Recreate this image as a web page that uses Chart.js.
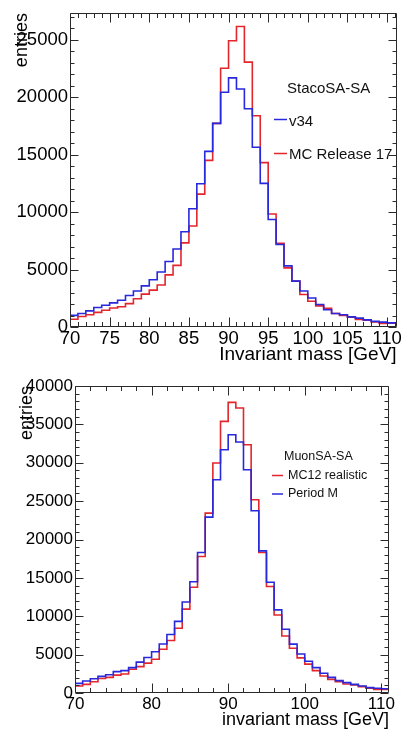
<!DOCTYPE html>
<html>
<head>
<meta charset="utf-8">
<script src="https://cdn.jsdelivr.net/npm/chart.js@4.4.1/dist/chart.umd.min.js"></script>
<style>
  html, body { margin: 0; padding: 0; background: #fff; }
  .panel { position: absolute; left: 0; width: 403px; }
  #panelSuperior { top: 0; height: 366px; }
  #panelInferior { top: 366px; height: 365px; }
</style>
</head>
<body>
<div class="panel" id="panelSuperior"><canvas id="masaStaco" width="403" height="366"></canvas></div>
<div class="panel" id="panelInferior"><canvas id="masaMuon" width="403" height="365"></canvas></div>
<script>
// bordes de los bins (1 GeV) comunes a los dos histogramas
const bordesBins = [70, 71, 72, 73, 74, 75, 76, 77, 78, 79, 80, 81, 82, 83, 84, 85, 86, 87, 88, 89, 90,
    91, 92, 93, 94, 95, 96, 97, 98, 99, 100, 101, 102, 103, 104, 105, 106, 107, 108, 109, 110, 111];

// panel de arriba: StacoSA-SA
const v34 = [1010, 1170, 1400, 1690, 1890, 2100, 2320, 2740, 3130, 3580, 4110, 4780, 5700, 6790, 8290,
    10280, 12460, 15270, 17710, 20420, 21670, 20700, 18980, 15630, 12490, 9350, 7170, 5320, 3990, 3130,
    2520, 1960, 1500, 1170, 1060, 880, 770, 620, 490, 420, 360];
const mcRelease17 = [680, 910, 1070, 1270, 1460, 1650, 1760, 2030, 2460, 2860, 3210, 3650, 4530, 5360, 7320,
    8790, 11560, 14490, 17710, 22500, 24890, 26130, 23040, 18370, 14300, 9830, 7290, 5140, 3990, 2830,
    2240, 1840, 1630, 1180, 1000, 850, 660, 590, 430, 300, 330];

// panel de abajo: MuonSA-SA
const mc12Realistic = [910, 1130, 1460, 1880, 2040, 2330, 2470, 3100, 3430, 3890, 4400, 5700, 6850, 8440, 10930,
    13780, 17780, 23430, 29960, 35390, 37870, 37130, 32350, 25170, 18300, 13870, 10170, 7430, 5830, 4580,
    3760, 2910, 2220, 1780, 1480, 1170, 1040, 830, 610, 450, 470];
const periodoM = [1250, 1560, 1850, 2170, 2380, 2780, 2920, 3310, 4020, 4630, 5380, 6380, 7620, 9330, 11850,
    14500, 18300, 22910, 27780, 31700, 33650, 32700, 29090, 23740, 18520, 14430, 10830, 8300, 6370, 5090,
    4130, 3300, 2570, 2040, 1610, 1350, 1130, 910, 700, 620, 560];

// etiquetas de los ejes
const ticksXSuperior = [70, 75, 80, 85, 90, 95, 100, 105, 110];
const ticksYSuperior = [0, 5000, 10000, 15000, 20000, 25000];
const ticksXInferior = [70, 80, 90, 100, 110];
const ticksYInferior = [0, 5000, 10000, 15000, 20000, 25000, 30000, 35000, 40000];

const ROJO = '#e2262c';
const AZUL = '#2828dc';
const FAMILIA = "'Liberation Sans', Arial, Helvetica, sans-serif";

Chart.defaults.font.family = FAMILIA;
Chart.defaults.color = '#000';

// pasa los contenidos por bin a puntos en los bordes (para stepped)
function puntosHistograma(valores) {
    const puntos = valores.map((v, i) => ({ x: bordesBins[i], y: v }));
    puntos.push({ x: bordesBins[valores.length], y: valores[valores.length - 1] });
    return puntos;
}

// marco estilo ROOT con ticks hacia dentro en los cuatro lados
function crearMarco(cfg) {
    return {
        id: 'marcoRoot',
        afterDatasetsDraw(chart) {
            const { ctx, chartArea: a, scales: { x, y } } = chart;
            const izq = Math.round(a.left) + 0.5, der = Math.round(a.right) - 0.5;
            const arr = Math.round(a.top) + 0.5, aba = Math.round(a.bottom) - 0.5;
            ctx.save();
            ctx.strokeStyle = '#2a2a2a';
            ctx.lineWidth = 1;
            ctx.beginPath();
            ctx.rect(izq, arr, der - izq, aba - arr);
            for (let v = x.min; v <= x.max + 1e-6; v += cfg.pasoX) {
                const px = Math.round(x.getPixelForValue(v)) + 0.5;
                const largo = cfg.mayoresX.includes(Math.round(v)) ? 9 : 4.5;
                ctx.moveTo(px, aba); ctx.lineTo(px, aba - largo);
                ctx.moveTo(px, arr); ctx.lineTo(px, arr + largo);
            }
            for (let v = 0; v <= y.max + 1e-6; v += cfg.pasoY) {
                const py = Math.round(y.getPixelForValue(v)) + 0.5;
                const largo = cfg.mayoresY.includes(v) ? 8 : 4;
                ctx.moveTo(izq, py); ctx.lineTo(izq + largo, py);
                ctx.moveTo(der, py); ctx.lineTo(der - largo, py);
            }
            ctx.stroke();
            ctx.restore();
        }
    };
}

// leyenda dentro del area, como la de ROOT
function crearLeyenda(cfg) {
    return {
        id: 'leyendaRoot',
        afterDraw(chart) {
            const ctx = chart.ctx;
            ctx.save();
            ctx.font = cfg.tamano + 'px ' + FAMILIA;
            ctx.fillStyle = '#111';
            ctx.textBaseline = 'middle';
            ctx.textAlign = 'left';
            ctx.fillText(cfg.titulo, cfg.xTitulo, cfg.yTitulo);
            cfg.entradas.forEach(e => {
                const ds = chart.data.datasets[e.indice];
                ctx.strokeStyle = ds.borderColor;
                ctx.lineWidth = 1.5;
                ctx.beginPath();
                ctx.moveTo(cfg.xLinea[0], e.yLinea);
                ctx.lineTo(cfg.xLinea[1], e.yLinea);
                ctx.stroke();
                ctx.fillText(ds.label, cfg.xTexto, e.yTexto);
            });
            ctx.restore();
        }
    };
}

function serie(label, valores, color, orden) {
    return {
        label: label,
        data: puntosHistograma(valores),
        borderColor: color,
        borderWidth: 1.6,
        pointRadius: 0,
        fill: false,
        stepped: true,
        order: orden
    };
}

function opcionesEjes(p) {
    return {
        x: {
            type: 'linear',
            min: 70,
            max: p.maxX,
            afterBuildTicks: s => { s.ticks = p.ticksX.map(v => ({ value: v })); },
            afterFit: s => { s.height = p.altoX; },
            grid: { display: false, drawTicks: false, tickLength: 0 },
            border: { display: false },
            ticks: { autoSkip: false, maxRotation: 0, padding: 1, color: '#000',
                font: { size: p.fuenteTicks }, callback: v => String(v) },
            title: { display: true, text: p.tituloX, align: 'end', color: '#000',
                padding: { top: 0, bottom: 0 }, font: { size: p.fuenteTituloX } }
        },
        y: {
            min: 0,
            max: p.maxY,
            afterBuildTicks: s => { s.ticks = p.ticksY.map(v => ({ value: v })); },
            afterFit: s => { s.width = p.anchoY; },
            grid: { display: false, drawTicks: false, tickLength: 0 },
            border: { display: false },
            ticks: { padding: 2, color: '#000', font: { size: p.fuenteTicks }, callback: v => String(v) },
            title: { display: true, text: 'entries', align: 'end', color: '#000',
                padding: { top: p.padTituloY, bottom: 0 }, font: { size: p.fuenteTituloY } }
        }
    };
}

// ---- panel superior ----
new Chart(document.getElementById('masaStaco').getContext('2d'), {
    type: 'line',
    data: {
        datasets: [
            serie('v34', v34, AZUL, 0),
            serie('MC Release 17', mcRelease17, ROJO, 1)
        ]
    },
    options: {
        responsive: false,
        animation: false,
        layout: { padding: { top: 12, right: 6, bottom: 0, left: 0 } },
        scales: opcionesEjes({
            maxX: 111.2, maxY: 27300, ticksX: ticksXSuperior, ticksY: ticksYSuperior,
            altoX: 39, anchoY: 70, fuenteTicks: 18.5, fuenteTituloX: 19, fuenteTituloY: 18,
            padTituloY: 11, tituloX: 'Invariant mass [GeV]'
        }),
        plugins: { legend: { display: false }, tooltip: { enabled: false } }
    },
    plugins: [
        crearMarco({ pasoX: 1, pasoY: 1000, mayoresX: ticksXSuperior, mayoresY: ticksYSuperior }),
        crearLeyenda({
            titulo: 'StacoSA-SA', tamano: 15, xTitulo: 287, yTitulo: 88.5,
            xLinea: [274, 287], xTexto: 289,
            entradas: [
                { indice: 0, yLinea: 119.5, yTexto: 122 },
                { indice: 1, yLinea: 153.5, yTexto: 155 }
            ]
        })
    ]
});

// ---- panel inferior ----
new Chart(document.getElementById('masaMuon').getContext('2d'), {
    type: 'line',
    data: {
        datasets: [
            serie('MC12 realistic', mc12Realistic, ROJO, 1),
            serie('Period M', periodoM, AZUL, 0)
        ]
    },
    options: {
        responsive: false,
        animation: false,
        layout: { padding: { top: 20, right: 14, bottom: 0, left: 0 } },
        scales: opcionesEjes({
            maxX: 111, maxY: 40000, ticksX: ticksXInferior, ticksY: ticksYInferior,
            altoX: 38, anchoY: 75, fuenteTicks: 17, fuenteTituloX: 18, fuenteTituloY: 18,
            padTituloY: 16.7, tituloX: 'invariant mass [GeV]'
        }),
        plugins: { legend: { display: false }, tooltip: { enabled: false } }
    },
    plugins: [
        crearMarco({ pasoX: 2, pasoY: 1000, mayoresX: ticksXInferior, mayoresY: ticksYInferior }),
        crearLeyenda({
            titulo: 'MuonSA-SA', tamano: 12.5, xTitulo: 284, yTitulo: 91,
            xLinea: [272, 283], xTexto: 288,
            entradas: [
                { indice: 0, yLinea: 109.5, yTexto: 109.5 },
                { indice: 1, yLinea: 128, yTexto: 128 }
            ]
        })
    ]
});
</script>
</body>
</html>
